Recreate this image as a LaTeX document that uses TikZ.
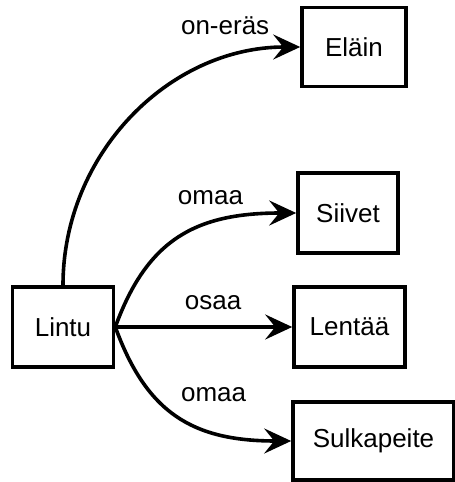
\documentclass[tikz,border=0pt]{standalone}
\usepackage{fontspec}
\setmainfont{Liberation Sans}
\usetikzlibrary{arrows.meta}

\begin{document}
\begin{tikzpicture}[x=1pt, y=1pt, line width=3.6pt,
    box/.style={draw, minimum height=80pt, inner sep=0pt, font=\fontsize{26}{30}\selectfont},
    rel/.style={-{Stealth[length=27pt, width=25pt, inset=10pt]}},
    lbl/.style={inner sep=0pt, font=\fontsize{26}{30}\selectfont}]
        \useasboundingbox (0,0) rectangle (455,482);
        \node[box, minimum width=101pt] (lintu) at (63,155) {Lintu};
        \node[box, minimum width=104pt, minimum height=79pt] (elain) at (354,435) {Eläin};
        \node[box, minimum width=100pt] (siivet) at (348,269) {Siivet};
        \node[box, minimum width=111pt] (lentaa) at (349.5,155) {Lentää};
        \node[box, minimum width=161pt, minimum height=78pt] (sulkapeite) at (373.5,41) {Sulkapeite};
        \draw[rel] (lintu.north) to[out=90, in=180, looseness=1]
            node[lbl, pos=0.8, above=23pt] (oneras) {on-eräs} (elain.west);
        \draw[rel] (lintu.east) to[out=70, in=180, out looseness=1.12, in looseness=1.2]
            node[lbl, pos=0.66, above=17pt] (omaa1) {omaa} (siivet.west);
        \draw[rel] (lintu.east) --
            node[lbl, pos=0.553, above=15pt] (osaa) {osaa} (lentaa.west);
        \draw[rel] (lintu.east) to[out=-70, in=180, out looseness=1.12, in looseness=1.2]
            node[lbl, pos=0.69, above=29pt] (omaa2) {omaa} (sulkapeite.west);
    \end{tikzpicture}
\end{document}
